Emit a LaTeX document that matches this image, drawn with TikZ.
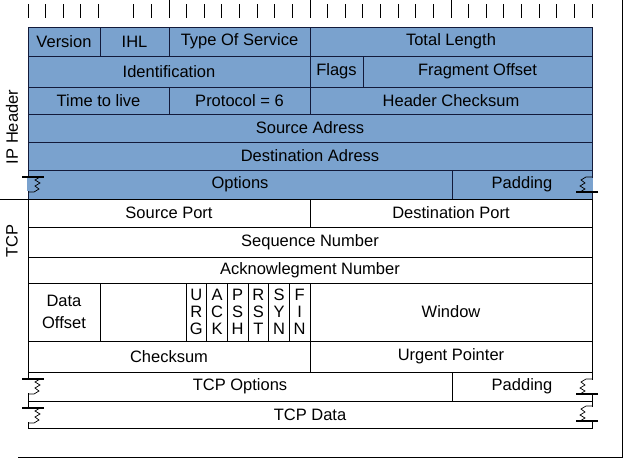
\documentclass[tikz,border=0pt]{standalone}
\usepackage{fontspec}
\setmainfont{Liberation Sans}
\usetikzlibrary{positioning}
\definecolor{ipblue}{RGB}{122,162,206}
\definecolor{ipline}{RGB}{18,26,58}
\tikzstyle{ipfield} = [rectangle, draw=ipline, fill=ipblue, inner sep=0pt,
    outer sep=0pt, anchor=north west]
\tikzstyle{tcpfield} = [rectangle, draw, fill=white, inner sep=0pt,
    outer sep=0pt, anchor=north west]
\tikzstyle{flagbit} = [tcpfield, minimum width=20.67pt, minimum height=58pt,
    align=center, font=\fontsize{16.5}{17}\selectfont]
\tikzstyle{sidelabel} = [rotate=90]

\begin{document}
\begin{tikzpicture}[x=1pt, y=-1pt, line width=0.9pt,
    font=\fontsize{16.5}{18}\selectfont]
    \useasboundingbox (0,0) rectangle (624,458);
    % bit ruler
    \foreach \k in {0,...,4,6,7,9,10,...,15,17,18,...,23,25,26,...,32}
        \draw (28+17.625*\k,4) -- (28+17.625*\k,18);
    \foreach \k in {8,16,24}
        \draw (28+17.625*\k,0) -- (28+17.625*\k,18);

    % IP header
    \node [ipfield, minimum width=72pt, minimum height=29pt] (version) at (28,27) {Version};
    \node [ipfield, minimum width=69pt, minimum height=29pt, right=0pt of version] (ihl) {IHL};
    \node [ipfield, minimum width=141pt, minimum height=29pt, right=0pt of ihl] (tos) {Type Of Service};
    \node [ipfield, minimum width=282pt, minimum height=29pt, right=0pt of tos] (totlen) {Total Length};

    \node [ipfield, minimum width=282pt, minimum height=31pt] (ident) at (28,56) {Identification};
    \node [ipfield, minimum width=53pt, minimum height=31pt, right=0pt of ident] (flags) {Flags};
    \node [ipfield, minimum width=229pt, minimum height=31pt, right=0pt of flags] (fragoff) {Fragment Offset};

    \node [ipfield, minimum width=141pt, minimum height=27pt] (ttl) at (28,87) {Time to live};
    \node [ipfield, minimum width=141pt, minimum height=27pt, right=0pt of ttl] (proto) {Protocol = 6};
    \node [ipfield, minimum width=282pt, minimum height=27pt, right=0pt of proto] (hdrsum) {Header Checksum};

    \node [ipfield, minimum width=564pt, minimum height=28pt] (srcaddr) at (28,114) {Source Adress};
    \node [ipfield, minimum width=564pt, minimum height=28pt] (dstaddr) at (28,142) {Destination Adress};

    \node [ipfield, minimum width=424pt, minimum height=29pt] (ipopt) at (28,170) {Options};
    \node [ipfield, minimum width=140pt, minimum height=29pt, right=0pt of ipopt] (ippad) {Padding};

    % TCP header
    \node [tcpfield, minimum width=282pt, minimum height=28pt] (srcport) at (28,199) {Source Port};
    \node [tcpfield, minimum width=282pt, minimum height=28pt, right=0pt of srcport] (dstport) {Destination Port};

    \node [tcpfield, minimum width=564pt, minimum height=30pt] (seqnum) at (28,227) {Sequence Number};
    \node [tcpfield, minimum width=564pt, minimum height=26pt] (acknum) at (28,257) {Acknowlegment Number};

    \node [tcpfield, minimum width=72pt, minimum height=58pt, align=center,
        font=\fontsize{16.5}{22}\selectfont] (dataoff) at (28,283) {Data\\Offset};
    \node [tcpfield, minimum width=86pt, minimum height=58pt, right=0pt of dataoff] (reserved) {};
    \node [flagbit, right=0pt of reserved] (urg) {U\\R\\G};
    \node [flagbit, right=0pt of urg] (ack) {A\\C\\K};
    \node [flagbit, right=0pt of ack] (psh) {P\\S\\H};
    \node [flagbit, right=0pt of psh] (rst) {R\\S\\T};
    \node [flagbit, right=0pt of rst] (syn) {S\\Y\\N};
    \node [flagbit, right=0pt of syn] (fin) {F\\I\\N};
    \node [tcpfield, minimum width=282pt, minimum height=58pt, right=0pt of fin] (window) {Window};

    \node [tcpfield, minimum width=282pt, minimum height=31pt] (checksum) at (28,341) {Checksum};
    \node [tcpfield, minimum width=282pt, minimum height=31pt, right=0pt of checksum] (urgptr) {Urgent Pointer};

    \node [tcpfield, minimum width=424pt, minimum height=29pt] (tcpopt) at (28,372) {TCP Options};
    \node [tcpfield, minimum width=140pt, minimum height=29pt, right=0pt of tcpopt] (tcppad) {Padding};
    \node [tcpfield, minimum width=564pt, minimum height=27pt] (tcpdata) at (28,401) {TCP Data};

    % broken edges
    \foreach \f/\a/\r/\c in {ipopt/north west/0/ipblue, ippad/south east/180/ipblue,
        tcpopt/north west/0/white, tcppad/south east/180/white,
        tcpdata/north west/0/white, tcpdata/south east/180/white} {
        \begin{scope}[shift={(\f.\a)}, rotate=\r]
            \draw [\c, line width=1.6pt] (0,8) -- (0,21);
            \draw [line width=1.4pt] (-6,7) -- (16,7);
            \draw [line width=0.7pt] (12,7) -- (7,10) -- (12,13) -- (7,16) -- (11,19) -- (6,22) -- (0,22);
        \end{scope}
    }

    % side labels and frame
    \node [sidelabel] (iplabel) at (12,127) {IP Header};
    \node [sidelabel] (tcplabel) at (12,241) {TCP};
    \draw (0,199) -- (ipopt.south west);
    \draw (622,0) -- (622,457) -- (18,457);
\end{tikzpicture}
\end{document}
